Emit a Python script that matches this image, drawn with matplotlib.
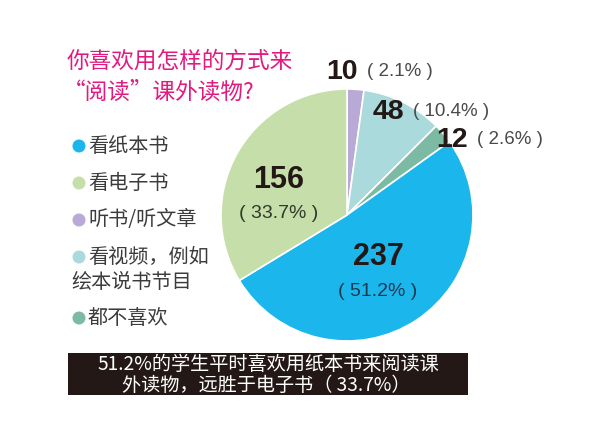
import matplotlib
matplotlib.use("Agg")
import matplotlib.pyplot as plt
from matplotlib.patches import Rectangle, Circle

plt.rcParams['font.family'] = ['Noto Sans CJK SC', 'DejaVu Sans']

# survey: how do you like to "read" extracurricular books
labels = ['听书/听文章', '看视频，例如\n绘本说书节目', '都不喜欢', '看纸本书', '看电子书']
counts = [10, 48, 12, 237, 156]
pct_text = ['2.1%', '10.4%', '2.6%', '51.2%', '33.7%']
colors = ['#b8a9d6', '#abdadc', '#7dbaa4', '#1ab6ec', '#c6dea9']

legend_order = [3, 4, 0, 1, 2]

title = '你喜欢用怎样的方式来\n“阅读”课外读物?'
note = '51.2%的学生平时喜欢用纸本书来阅读课\n外读物，远胜于电子书（ 33.7%）'

W, H = 600, 441
fig = plt.figure(figsize=(6, 4.41), dpi=100)
ax = fig.add_axes([0, 0, 1, 1])


def Y(y):
    # pixel row from the top -> data y
    return H - y


# pie
ax.pie(counts, colors=colors, startangle=90, counterclock=False,
       center=(347, Y(215)), radius=126, frame=True,
       wedgeprops=dict(edgecolor='white', linewidth=1.2))
ax.set_xlim(0, W)
ax.set_ylim(0, H)
ax.set_aspect('equal')
ax.axis('off')

# title
t1, t2 = title.split('\n')
ax.text(67, Y(61), t1, color='#e4197f', fontsize=16.3,
        va='center', ha='left')
ax.text(63, Y(92), t2, color='#e4197f', fontsize=16.3,
        va='center', ha='left')

# legend
rows = [146, 183, 220, 257, 318]
for row, i in zip(rows, legend_order):
    ax.add_patch(Circle((79, Y(row)), 6.5, color=colors[i], lw=0))
    lines = labels[i].split('\n')
    ax.text(88, Y(row), lines[0], fontsize=14.5, color='#3c3c3c',
            va='center', ha='left')
    if len(lines) > 1:
        ax.text(71, Y(row + 26), lines[1], fontsize=14.5, color='#3c3c3c',
                va='center', ha='left')

num_font = dict(family=['Liberation Sans', 'DejaVu Sans'], weight='bold',
                color='#231815')
pct_font = dict(family=['Liberation Sans', 'DejaVu Sans'], color='#4a4a4a')

# small slices: labels outside, number then percentage
outside = {0: (342, 72), 1: (388, 112), 2: (452, 140)}
for i, (x, y) in outside.items():
    ax.text(x, Y(y), str(counts[i]), fontsize=20.5, ha='center', va='center',
            **num_font)
    ax.text(x + 25, Y(y), '( ' + pct_text[i] + ' )', fontsize=13.5,
            ha='left', va='center', **pct_font)

# big slices: labels inside
inside = {4: (279, 180, '#2f3a2a'), 3: (378, 257, '#1d3a52')}
for i, (x, y, c) in inside.items():
    ax.text(x, Y(y), str(counts[i]), fontsize=22, ha='center', va='center',
            **num_font)
    ax.text(x, Y(y + 34), '( ' + pct_text[i] + ' )', fontsize=14,
            ha='center', va='center', family=['Liberation Sans', 'DejaVu Sans'],
            color=c)

# note box
ax.add_patch(Rectangle((68, Y(395)), 400, 42, color='#231815', lw=0))
n1, n2 = note.split('\n')
ax.text(268, Y(364), n1, fontsize=13.8, color='white',
        ha='center', va='center')
ax.text(266, Y(385), n2, fontsize=13.8, color='white',
        ha='center', va='center')

fig.savefig('out.png', dpi=100, facecolor='white')
